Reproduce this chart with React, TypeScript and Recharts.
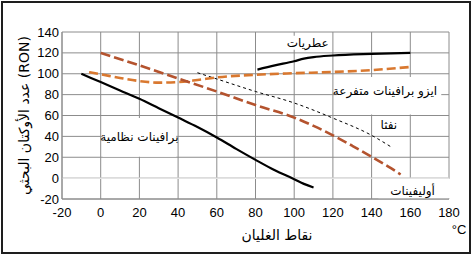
import React from 'react';
import { LineChart, Line, XAxis, YAxis, CartesianGrid, ReferenceArea, ReferenceLine } from 'recharts';

const xTicks = [-20, 0, 20, 40, 60, 80, 100, 120, 140, 160, 180];
const yTicks = [-20, 0, 20, 40, 60, 80, 100, 120, 140];

const normalX = [-10, 0, 10, 20, 30, 40, 50, 60, 70, 80, 90, 100, 105, 110];
const normalY = [100, 92, 84, 76, 67, 58, 49, 39, 28, 17.5, 7.5, -1, -5.5, -9];

const aromaticsX = [81, 90, 100, 105, 110, 120, 140, 160];
const aromaticsY = [104, 108, 112, 114.5, 116, 117.5, 119, 120];

const isoX = [-6, 0, 10, 20, 30, 40, 50, 60, 80, 100, 120, 140, 160];
const isoY = [101.5, 99.5, 96, 93, 91.5, 92, 94, 96.5, 99, 100.5, 101.7, 103.5, 106.5];

const olefinsX = [0, 20, 40, 60, 80, 100, 110, 120, 130, 140, 150, 155];
const olefinsY = [120, 108, 95.5, 83, 70, 58, 50, 41, 31, 20.5, 9.5, 3.5];

const naphthaX = [50, 60, 80, 100, 120, 140, 150];
const naphthaY = [101, 95, 83, 72, 57.5, 41, 30];

const yTitle = 'عدد الأوكتان البحثي (RON)';
const xTitle = 'نقاط الغليان';
const unitText = '°C';

const annotations = [
  { text: 'عطريات', x1: 95, x2: 119, y1: 123, y2: 136.5, dx: 0, dy: 0 },
  { text: 'ايزو برافينات متفرعة', x1: 122, x2: 176, y1: 61, y2: 97, dx: -4, dy: -5 },
  { text: 'نفثا', x1: 142.3, x2: 155.5, y1: 42.5, y2: 59, dx: 0, dy: 0 },
  { text: 'برافينات نظامية', x1: 1, x2: 39, y1: 20.5, y2: 57.5, dx: 0, dy: 0 },
  { text: 'أوليفينات', x1: 143.5, x2: 182, y1: -19.5, y2: -0.5, dx: -3, dy: 2 },
];

const toPoints = (xs: number[], ys: number[]) => xs.map((x, i) => ({ x, y: ys[i] }));

const arabicFont = 'DejaVu Sans, sans-serif';
const latinFont = 'Liberation Sans, Arial, sans-serif';

const boxLabel = (text: string, dx: number, dy: number) => (props: any) => {
  const vb = props.viewBox || {};
  return (
    <text
      x={vb.x + vb.width / 2 + dx}
      y={vb.y + vb.height / 2 + dy}
      textAnchor="middle"
      dominantBaseline="central"
      fontSize={12}
      fontFamily={arabicFont}
      fill="#000"
    >
      {text}
    </text>
  );
};

const yLabel = (props: any) => {
  const vb = props.viewBox || {};
  const cx = 24;
  const cy = vb.y + vb.height / 2;
  return (
    <text
      x={cx}
      y={cy}
      transform={`rotate(-90, ${cx}, ${cy})`}
      textAnchor="middle"
      dominantBaseline="central"
      fontSize={14}
      fontFamily={arabicFont}
      fill="#000"
    >
      {yTitle}
    </text>
  );
};

const xLabel = (props: any) => {
  const vb = props.viewBox || {};
  return (
    <g>
      <text
        x={vb.x + vb.width / 2 + 21.5}
        y={vb.y + 36}
        textAnchor="middle"
        dominantBaseline="central"
        fontSize={14}
        fontFamily={arabicFont}
        fill="#000"
      >
        {xTitle}
      </text>
      <text
        x={vb.x + vb.width + 10}
        y={vb.y + 30}
        textAnchor="middle"
        dominantBaseline="central"
        fontSize={13}
        fontFamily={latinFont}
        fill="#000"
      >
        {unitText}
      </text>
    </g>
  );
};

export default function App() {
  return (
    <div style={{ position: 'absolute', left: 0, top: 0, width: 472, height: 256, background: '#fff' }}>
      <LineChart
        width={472}
        height={256}
        margin={{ top: 32, right: 23, bottom: 0, left: 0 }}
      >
        <CartesianGrid stroke="#8c8c8c" strokeWidth={1} />
        <XAxis
          type="number"
          dataKey="x"
          domain={[-20, 180]}
          ticks={xTicks}
          interval={0}
          allowDataOverflow
          height={57}
          tickLine={false}
          tickSize={7}
          tickMargin={2}
          axisLine={{ stroke: '#8c8c8c' }}
          tick={{ fill: '#000', fontSize: 13, fontFamily: latinFont }}
          label={xLabel}
        />
        <YAxis
          type="number"
          dataKey="y"
          domain={[-20, 140]}
          ticks={yTicks}
          interval={0}
          allowDataOverflow
          width={62}
          tickLine={false}
          tickSize={1}
          tickMargin={2}
          axisLine={{ stroke: '#8c8c8c' }}
          tick={{ fill: '#000', fontSize: 13, fontFamily: latinFont }}
          label={yLabel}
        />
        <ReferenceLine y={0} stroke="#e4e4e4" strokeWidth={1.5} ifOverflow="visible" />
        {annotations.map((a) => (
          <ReferenceArea
            key={a.text}
            x1={a.x1}
            x2={a.x2}
            y1={a.y1}
            y2={a.y2}
            fill="#fff"
            fillOpacity={1}
            stroke="none"
            ifOverflow="visible"
            label={boxLabel(a.text, a.dx, a.dy)}
          />
        ))}
        <Line data={toPoints(normalX, normalY)} dataKey="y" type="monotone" stroke="#000" strokeWidth={2.2} dot={false} isAnimationActive={false} />
        <Line data={toPoints(aromaticsX, aromaticsY)} dataKey="y" type="monotone" stroke="#000" strokeWidth={2.2} dot={false} isAnimationActive={false} />
        <Line data={toPoints(naphthaX, naphthaY)} dataKey="y" type="monotone" stroke="#000" strokeWidth={1} strokeDasharray="3 3" dot={false} isAnimationActive={false} />
        <Line data={toPoints(isoX, isoY)} dataKey="y" type="monotone" stroke="#d9782f" strokeWidth={2.6} strokeDasharray="9 4" dot={false} isAnimationActive={false} />
        <Line data={toPoints(olefinsX, olefinsY)} dataKey="y" type="monotone" stroke="#b4532e" strokeWidth={2.6} strokeDasharray="10 4" dot={false} isAnimationActive={false} />
      </LineChart>
      <div
        style={{
          position: 'absolute',
          left: 1,
          top: 1,
          width: 470,
          height: 253,
          boxSizing: 'border-box',
          border: '2px solid #1e1e1e',
          pointerEvents: 'none',
        }}
      />
    </div>
  );
}
